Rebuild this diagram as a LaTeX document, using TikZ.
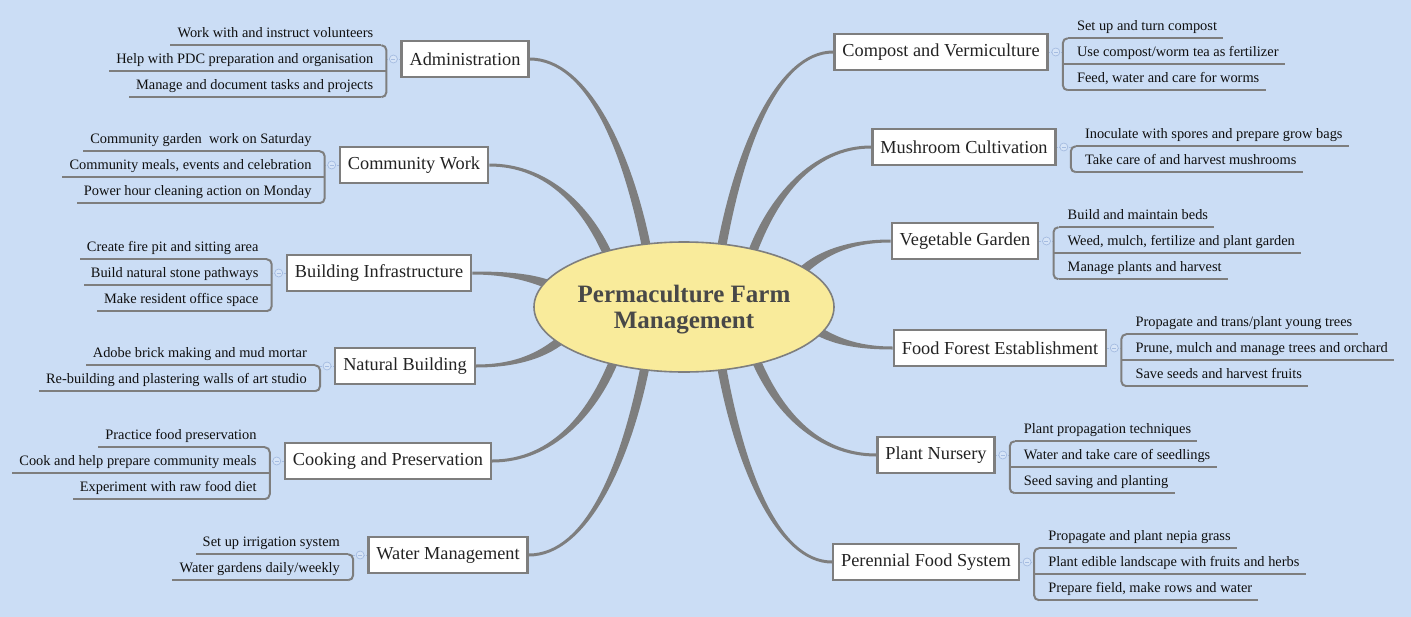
\documentclass[tikz,border=0pt]{standalone}
\usepackage{fontspec}
\setmainfont{Liberation Serif}
\usetikzlibrary{calc,shapes.geometric}
\pgfdeclarelayer{bglayer}
\pgfdeclarelayer{branchlayer}
\pgfsetlayers{bglayer,branchlayer,main}
\definecolor{bgcol}{RGB}{203,221,245}
\definecolor{linecol}{RGB}{126,126,126}
\definecolor{ellfill}{RGB}{249,235,155}
\definecolor{knobcol}{RGB}{165,188,225}
\definecolor{knobfill}{RGB}{214,228,247}
\definecolor{itemtextcol}{RGB}{15,15,15}
\definecolor{topictext}{RGB}{35,35,35}
\definecolor{titletext}{RGB}{72,72,72}
\tikzset{
  topic/.style={draw=linecol, line width=2.4pt, fill=white, minimum height=36pt,
    inner xsep=8pt, inner ysep=0pt, font=\fontsize{18.3}{22}\selectfont, text=topictext},
  itemtext/.style={font=\fontsize{14.4}{17}\selectfont, text=itemtextcol, inner xsep=0pt,
    inner ysep=0pt, text height=11pt, text depth=2pt, minimum height=24pt},
  bline/.style={draw=linecol, line width=2pt},
  knobline/.style={draw=knobcol, line width=0.8pt, dash pattern=on 1.5pt off 1pt},
  knob/.style={circle, draw=knobcol, fill=knobfill, line width=0.7pt, minimum size=8pt,
    inner sep=0pt, path picture={\draw[knobcol, line width=0.7pt]
      ($(path picture bounding box.west)+(2,0)$) -- ($(path picture bounding box.east)+(-2,0)$);}},
  branchfill/.style={fill=linecol},
  centre/.style={ellipse, draw=linecol, line width=1.6pt, fill=ellfill, minimum width=300pt,
    minimum height=130pt, inner sep=0pt, font=\bfseries\fontsize{25}{26}\selectfont, text=titletext}
}
% right-hand group: name, x, y, number of items, title, items
\newcommand\RightGrp[6]{%
  \node[topic] (#1) at (#2,#3) {#5};
  \coordinate (#1k) at ($(#1.east)+(14,0)$);
  \coordinate (#1t) at ($(#1k)+(14,0)$);
  \draw[knobline] (#1.east) -- (#1k);
  \node[knob] (#1kn) at ($(#1.east)!0.5!(#1k)$) {};
  \foreach \itm [count=\i] in {#6} {%
    \pgfmathsetmacro\yy{#3+(\i-(#4+1)/2)*26}
    \node[itemtext, anchor=west] (#1-\i) at (#1t |- 0,\yy) {\itm};
    \draw[bline] ($(#1k |- #1-\i.south)+(5,0)$) -- ($(#1-\i.south east)+(6,0)$);
  }
  \draw[bline, rounded corners=5pt] ($(#1k |- #1-1.south)+(5,0)$) -- (#1k |- #1-1.south)
    -- (#1k |- #1-#4.south) -- ($(#1k |- #1-#4.south)+(5,0)$);
  \ifnum#4>2 \draw[bline] (#1k |- #1-2.south) -- ++(5,0);\fi
}
% left-hand group
\newcommand\LeftGrp[6]{%
  \node[topic] (#1) at (#2,#3) {#5};
  \coordinate (#1k) at ($(#1.west)+(-14,0)$);
  \coordinate (#1t) at ($(#1k)+(-13,0)$);
  \draw[knobline] (#1.west) -- (#1k);
  \node[knob] (#1kn) at ($(#1.west)!0.5!(#1k)$) {};
  \foreach \itm [count=\i] in {#6} {%
    \pgfmathsetmacro\yy{#3+(\i-(#4+1)/2)*26}
    \node[itemtext, anchor=east] (#1-\i) at (#1t |- 0,\yy) {\itm};
    \draw[bline] ($(#1k |- #1-\i.south)+(-5,0)$) -- ($(#1-\i.south west)+(-7,0)$);
  }
  \draw[bline, rounded corners=5pt] ($(#1k |- #1-1.south)+(-5,0)$) -- (#1k |- #1-1.south)
    -- (#1k |- #1-#4.south) -- ($(#1k |- #1-#4.south)+(-5,0)$);
  \ifnum#4>2 \draw[bline] (#1k |- #1-2.south) -- ++(-5,0);\fi
}
% tapered branch from the centre to a topic
\newcommand\MapBranch[2]{%
  \coordinate (bs) at (#1);
  \coordinate (be) at (#2);
  \coordinate (bm) at ($(bs)!0.5!(be)$);
  \coordinate (bq) at ($(bs)!0.15!(be)$);
  \coordinate (p1) at (bq |- bm);
  \coordinate (p2) at (bm |- be);
  \coordinate (b0) at ($(bs)!-12pt!(p1)$);
  \fill[branchfill] ($(b0)!4.5pt!90:(p1)$) .. controls ($(p1)!4.5pt!-90:(b0)$) and ($(p2)!1.5pt!90:(be)$) .. ($(be)!1.5pt!-90:(p2)$)
    -- ($(be)!1.5pt!90:(p2)$) .. controls ($(p2)!1.5pt!-90:(be)$) and ($(p1)!4.5pt!90:(b0)$) .. ($(b0)!4.5pt!-90:(p1)$) -- cycle;
}
\begin{document}
\begin{tikzpicture}[x=1pt, y=-1pt]
\useasboundingbox (0,0) rectangle (1411,616);
\begin{pgfonlayer}{bglayer}
  \fill[bgcol] (-10,-10) rectangle (1421,626);
\end{pgfonlayer}

\node[centre] (ctr) at (684,307) {\raisebox{-3pt}[\height][\depth]{\makebox[0pt]{\begin{tabular}{@{}c@{}}Permaculture Farm\\Management\end{tabular}}}};

\LeftGrp{ad}{465}{59}{3}{Administration}{{Work with and instruct volunteers},{Help with PDC preparation and organisation},{Manage and document tasks and projects}}
\LeftGrp{cw}{414}{165}{3}{Community Work}{{Community garden\ \ work on Saturday},{Community meals, events and celebration},{Power hour cleaning action on Monday}}
\LeftGrp{bi}{379}{273}{3}{Building Infrastructure}{{Create fire pit and sitting area},{Build natural stone pathways},{Make resident office space}}
\LeftGrp{nb}{405}{366}{2}{Natural Building}{{Adobe brick making and mud mortar},{Re-building and plastering walls of art studio}}
\LeftGrp{cp}{388}{461}{3}{Cooking and Preservation}{{Practice food preservation},{Cook and help prepare community meals},{Experiment with raw food diet}}
\LeftGrp{wm}{448}{555}{2}{Water Management}{{Set up irrigation system},{Water gardens daily/weekly}}

\RightGrp{cv}{941}{52}{3}{Compost and Vermiculture}{{Set up and turn compost},{Use compost/worm tea as fertilizer},{Feed, water and care for worms}}
\RightGrp{mc}{964}{147}{2}{Mushroom Cultivation}{{Inoculate with spores and prepare grow bags},{Take care of and harvest mushrooms}}
\RightGrp{vg}{965}{241}{3}{Vegetable Garden}{{Build and maintain beds},{Weed, mulch, fertilize and plant garden},{Manage plants and harvest}}
\RightGrp{ff}{1000}{348}{3}{Food Forest Establishment}{{Propagate and trans/plant young trees},{Prune, mulch and manage trees and orchard},{Save seeds and harvest fruits}}
\RightGrp{pn}{936}{455}{3}{Plant Nursery}{{Plant propagation techniques},{Water and take care of seedlings},{Seed saving and planting}}
\RightGrp{pf}{926}{562}{3}{Perennial Food System}{{Propagate and plant nepia grass},{Plant edible landscape with fruits and herbs},{Prepare field, make rows and water}}

\begin{pgfonlayer}{branchlayer}
  \MapBranch{ctr.121}{ad.east}
  \MapBranch{ctr.144}{cw.east}
  \MapBranch{ctr.170}{bi.east}
  \MapBranch{ctr.196}{nb.east}
  \MapBranch{ctr.219}{cp.east}
  \MapBranch{ctr.238}{wm.east}
  \MapBranch{ctr.59}{cv.west}
  \MapBranch{ctr.40}{mc.west}
  \MapBranch{ctr.18}{vg.west}
  \MapBranch{ctr.349}{ff.west}
  \MapBranch{ctr.322}{pn.west}
  \MapBranch{ctr.301}{pf.west}
\end{pgfonlayer}
\end{tikzpicture}
\end{document}
